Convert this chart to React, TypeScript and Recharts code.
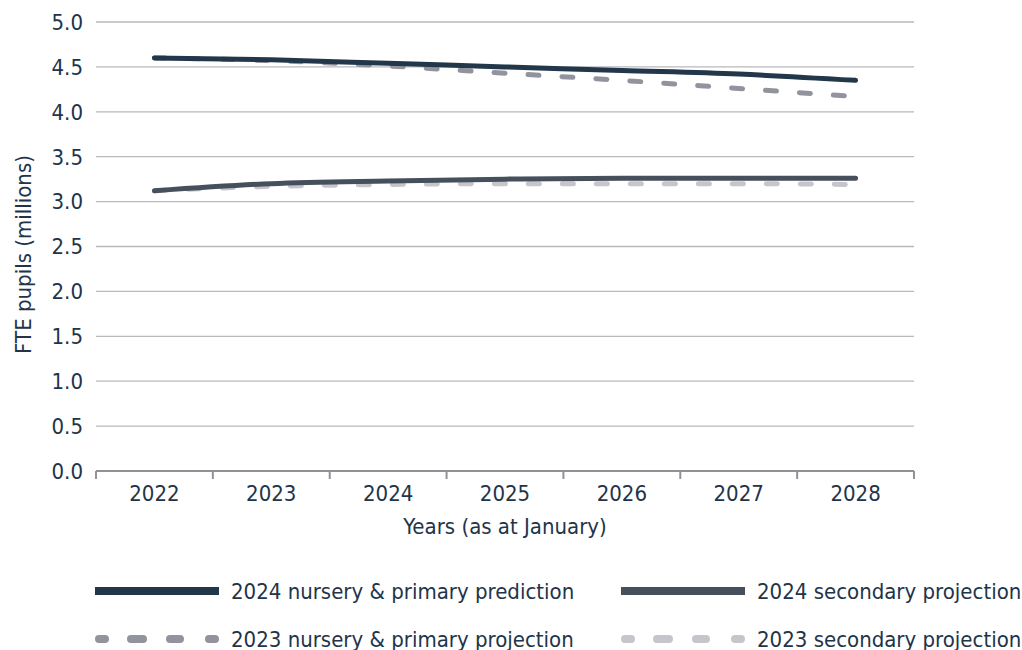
import React from "react";
import {
  LineChart,
  Line,
  XAxis,
  YAxis,
  CartesianGrid,
} from "recharts";

const years = ["2022", "2023", "2024", "2025", "2026", "2027", "2028"];
const nursery2024 = [4.6, 4.58, 4.54, 4.5, 4.46, 4.42, 4.35];
const secondary2024 = [3.12, 3.2, 3.23, 3.25, 3.26, 3.26, 3.26];
const nursery2023 = [4.6, 4.57, 4.51, 4.43, 4.35, 4.26, 4.17];
const secondary2023 = [3.12, 3.17, 3.19, 3.2, 3.2, 3.2, 3.19];
const yTicks = [0, 0.5, 1, 1.5, 2, 2.5, 3, 3.5, 4, 4.5, 5];

const data = years.map((year, i) => ({
  year,
  n24: nursery2024[i],
  s24: secondary2024[i],
  n23: nursery2023[i],
  s23: secondary2023[i],
}));

const FONT = "'DejaVu Sans Condensed', 'DejaVu Sans', sans-serif";
const TEXT = "#22344a";
const GRID = "#b9b9be";
const AXIS = "#919198";

const CHART_W = 1022;
const MARGIN = { top: 22, right: 108, bottom: 114, left: 0 };
const Y_W = 96;
const BAND = (CHART_W - MARGIN.left - MARGIN.right - Y_W) / years.length;
const TICK_SIZE = 6;
const TICK_MARGIN = 8;

const series = [
  { key: "n24", name: "2024 nursery & primary prediction", color: "#22374a", dashed: false },
  { key: "s24", name: "2024 secondary projection", color: "#464f5c", dashed: false },
  { key: "n23", name: "2023 nursery & primary projection", color: "#91949d", dashed: true },
  { key: "s23", name: "2023 secondary projection", color: "#c5c5cb", dashed: true },
];

// category label plus the tick marks at band edges
const YearTick = ({ x, y, payload, index }: any) => {
  const axisY = y - TICK_SIZE - TICK_MARGIN;
  const left = x - BAND / 2;
  const right = x + BAND / 2;
  return (
    <g>
      <line x1={left} x2={left} y1={axisY} y2={axisY + 8} stroke={AXIS} strokeWidth={2} />
      {index === years.length - 1 && (
        <line x1={right} x2={right} y1={axisY} y2={axisY + 8} stroke={AXIS} strokeWidth={2} />
      )}
      <text
        x={x}
        y={y}
        dy="0.71em"
        textAnchor="middle"
        fill={TEXT}
        fontSize={22}
        fontFamily={FONT}
      >
        {payload.value}
      </text>
    </g>
  );
};

const YLabel = ({ viewBox }: any) => {
  const cx = 23;
  const cy = viewBox.y + viewBox.height / 2 + 8;
  return (
    <text
      x={cx}
      y={cy}
      transform={`rotate(-90, ${cx}, ${cy})`}
      textAnchor="middle"
      dominantBaseline="central"
      fill={TEXT}
      fontSize={22}
      fontFamily={FONT}
    >
      FTE pupils (millions)
    </text>
  );
};

const LegendSample = ({ color, dashed }: { color: string; dashed: boolean }) => (
  <svg width={128} height={12} style={{ display: "block" }}>
    {dashed ? (
      <line
        x1={6}
        x2={122}
        y1={6}
        y2={6}
        stroke={color}
        strokeWidth={8}
        strokeLinecap="round"
        strokeDasharray="6 26 12 27 10 29 6"
      />
    ) : (
      <line x1={2} x2={126} y1={6} y2={6} stroke={color} strokeWidth={8} />
    )}
  </svg>
);

const legendRows = [
  [series[0], series[1]],
  [series[2], series[3]],
];

export default function App() {
  return (
    <div
      style={{
        position: "absolute",
        left: 0,
        top: 0,
        width: 1022,
        height: 650,
        background: "#fff",
        fontFamily: FONT,
        color: TEXT,
      }}
    >
      <LineChart width={CHART_W} height={650} data={data} margin={MARGIN}>
        <CartesianGrid vertical={false} stroke={GRID} strokeWidth={1.3} />
        <XAxis
          dataKey="year"
          scale="band"
          height={65}
          axisLine={{ stroke: AXIS, strokeWidth: 2 }}
          tickLine={false}
          tickSize={TICK_SIZE}
          tickMargin={TICK_MARGIN}
          tick={<YearTick />}
          interval={0}
          label={{
            value: "Years (as at January)",
            position: "insideBottom",
            offset: 2,
            fill: TEXT,
            fontSize: 22,
            fontFamily: FONT,
          }}
        />
        <YAxis
          width={Y_W}
          domain={[0, 5]}
          ticks={yTicks}
          axisLine={false}
          tickLine={false}
          tickSize={6}
          tickMargin={7}
          tickFormatter={(v: number) => v.toFixed(1)}
          tick={{ fill: TEXT, fontSize: 22, fontFamily: FONT }}
          label={<YLabel />}
        />
        {series
          .filter((s) => s.dashed)
          .map((s) => (
            <Line
              key={s.key}
              type="monotone"
              dataKey={s.key}
              name={s.name}
              stroke={s.color}
              strokeWidth={5}
              strokeLinecap="round"
              strokeDasharray="11 23"
              dot={false}
              activeDot={false}
              isAnimationActive={false}
            />
          ))}
        {series
          .filter((s) => !s.dashed)
          .map((s) => (
            <Line
              key={s.key}
              type="monotone"
              dataKey={s.key}
              name={s.name}
              stroke={s.color}
              strokeWidth={5}
              strokeLinecap="round"
              dot={false}
              activeDot={false}
              isAnimationActive={false}
            />
          ))}
      </LineChart>

      {legendRows.map((row, r) => (
        <div
          key={r}
          style={{
            position: "absolute",
            left: 93,
            top: r === 0 ? 576 : 624,
            height: 30,
            fontSize: 22,
            whiteSpace: "nowrap",
          }}
        >
          {row.map((s, i) => (
            <div
              key={s.key}
              style={{
                display: "flex",
                alignItems: "center",
                position: "absolute",
                left: i === 0 ? 0 : 526,
                top: 0,
                height: 30,
              }}
            >
              <LegendSample color={s.color} dashed={s.dashed} />
              <span style={{ marginLeft: 10 }}>{s.name}</span>
            </div>
          ))}
        </div>
      ))}
    </div>
  );
}
